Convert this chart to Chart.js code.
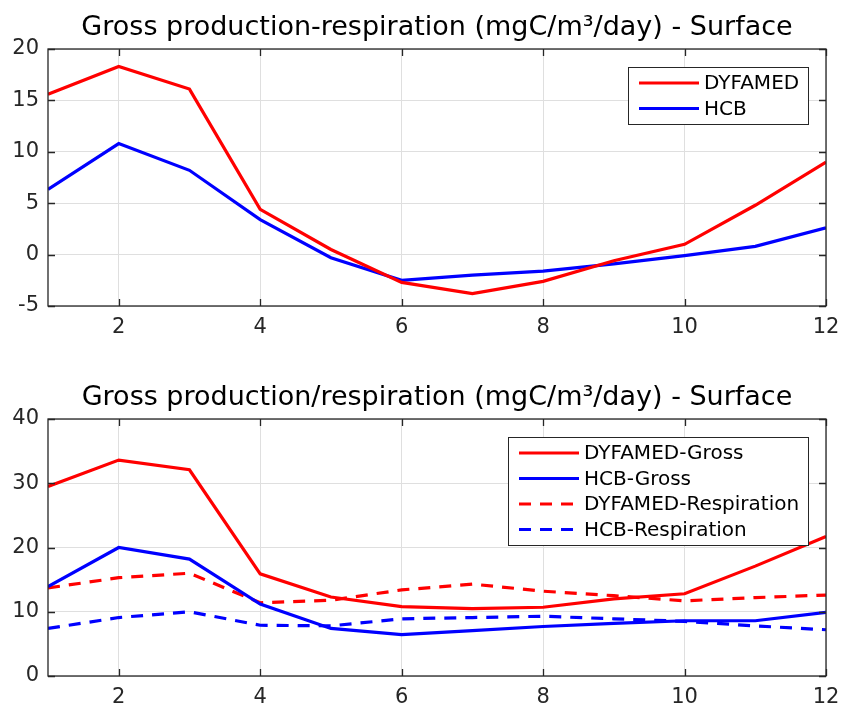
<!DOCTYPE html>
<html>
<head>
<meta charset="utf-8">
<script src="https://cdn.jsdelivr.net/npm/chart.js@4.4.1/dist/chart.umd.min.js"></script>
<style>
    body { margin: 0; background: #fff; width: 841px; height: 710px; position: relative; overflow: hidden; }
    .panel { position: absolute; left: 0; width: 841px; height: 340px; }
</style>
</head>
<body>
<div class="panel" style="top:0"><canvas id="net-chart" width="841" height="340"></canvas></div>
<div class="panel" style="top:370px"><canvas id="gross-chart" width="841" height="340"></canvas></div>
<script>
// Monthly surface values (mgC/m3/day)
const months = [1, 2, 3, 4, 5, 6, 7, 8, 9, 10, 11, 12];
const monthTicks = [2, 4, 6, 8, 10, 12];

// Gross production minus respiration
const dyfamedNet = [15.6, 18.3, 16.1, 4.4, 0.5, -2.7, -3.8, -2.6, -0.6, 1.0, 4.8, 9.0];
const hcbNet = [6.35, 10.8, 8.2, 3.4, -0.3, -2.5, -2.0, -1.6, -0.9, -0.1, 0.8, 2.6];
const netTicks = [-5, 0, 5, 10, 15, 20];

// Gross production and respiration
const dyfamedGross = [29.5, 33.6, 32.1, 15.9, 12.3, 10.8, 10.5, 10.7, 12.0, 12.8, 17.1, 21.7];
const hcbGross = [13.9, 20.0, 18.2, 11.2, 7.4, 6.45, 7.05, 7.7, 8.2, 8.6, 8.6, 9.9];
const dyfamedResp = [13.7, 15.3, 16.0, 11.4, 11.8, 13.4, 14.3, 13.2, 12.5, 11.7, 12.2, 12.6];
const hcbResp = [7.4, 9.1, 10.0, 7.9, 7.8, 8.9, 9.1, 9.3, 8.9, 8.5, 7.8, 7.2];
const grossTicks = [0, 10, 20, 30, 40];

const RED = '#ff0000';
const BLUE = '#0000ff';
const AXIS = '#262626';

Chart.defaults.font.family = '"DejaVu Sans", sans-serif';

function points(values) {
    return months.map((m, i) => ({ x: m, y: values[i] }));
}

function series(label, values, color, dashed) {
    return {
        label: label,
        data: points(values),
        borderColor: color,
        backgroundColor: color,
        borderDash: dashed ? [12, 9] : [],
        borderWidth: 3.2,
        pointRadius: 0,
        tension: 0,
        fill: false
    };
}

// axes box with inward tick marks, drawn over the lines
const framePlugin = {
    id: 'frame',
    afterDatasetsDraw(chart) {
        const { ctx, chartArea: a, scales: { x, y } } = chart;
        const len = 7;
        ctx.save();
        ctx.strokeStyle = AXIS;
        ctx.lineWidth = 1.3;
        ctx.beginPath();
        x.ticks.forEach(t => {
            const px = Math.round(x.getPixelForValue(t.value)) + 0.5;
            ctx.moveTo(px, a.bottom); ctx.lineTo(px, a.bottom - len);
            ctx.moveTo(px, a.top); ctx.lineTo(px, a.top + len);
        });
        y.ticks.forEach(t => {
            const py = Math.round(y.getPixelForValue(t.value)) + 0.5;
            ctx.moveTo(a.left, py); ctx.lineTo(a.left + len, py);
            ctx.moveTo(a.right, py); ctx.lineTo(a.right - len, py);
        });
        ctx.stroke();
        ctx.strokeRect(a.left, a.top, a.right - a.left, a.bottom - a.top);
        ctx.restore();
    }
};

// boxed legend in the upper right corner of the plot area
const boxLegend = {
    id: 'boxLegend',
    afterDraw(chart) {
        const { ctx, chartArea: a } = chart;
        const sets = chart.data.datasets;
        const rowH = 25.5;
        ctx.save();
        ctx.font = '20px "DejaVu Sans"';
        const textW = Math.max(...sets.map(d => ctx.measureText(d.label).width));
        const w = Math.round(76 + textW + 9);
        const h = Math.round(sets.length * rowH + 6);
        const x0 = Math.round(a.right - 18 - w);
        const y0 = Math.round(a.top + 18);
        ctx.fillStyle = '#fff';
        ctx.fillRect(x0, y0, w, h);
        ctx.strokeStyle = AXIS;
        ctx.lineWidth = 1;
        ctx.strokeRect(x0 + 0.5, y0 + 0.5, w, h);
        ctx.textBaseline = 'middle';
        sets.forEach((d, i) => {
            const cy = y0 + 16 + i * rowH;
            ctx.beginPath();
            ctx.strokeStyle = d.borderColor;
            ctx.lineWidth = 3;
            ctx.setLineDash(d.borderDash);
            ctx.moveTo(x0 + 11, cy);
            ctx.lineTo(x0 + 71, cy);
            ctx.stroke();
            ctx.setLineDash([]);
            ctx.fillStyle = '#000';
            ctx.fillText(d.label, x0 + 76, cy + 1);
        });
        ctx.restore();
    }
};

function makeChart(id, title, datasets, yTicks) {
    const ctx = document.getElementById(id).getContext('2d');
    return new Chart(ctx, {
        type: 'line',
        data: { datasets: datasets },
        options: {
            responsive: false,
            animation: false,
            layout: { padding: { left: 0, right: 15, top: 0, bottom: 0 } },
            scales: {
                x: {
                    type: 'linear',
                    min: 1,
                    max: 12,
                    afterBuildTicks: s => { s.ticks = monthTicks.map(v => ({ value: v })); },
                    afterFit: s => { s.height = 34; s.paddingLeft = 0; s.paddingRight = 0; },
                    grid: { color: '#dfdfdf', drawTicks: false },
                    border: { display: false },
                    ticks: { padding: 9, color: AXIS, font: { size: 21 }, maxRotation: 0, autoSkip: false }
                },
                y: {
                    type: 'linear',
                    min: yTicks[0],
                    max: yTicks[yTicks.length - 1],
                    afterBuildTicks: s => { s.ticks = yTicks.map(v => ({ value: v })); },
                    afterFit: s => { s.width = 48; s.paddingTop = 0; s.paddingBottom = 0; },
                    grid: { color: '#dfdfdf', drawTicks: false },
                    border: { display: false },
                    ticks: { padding: 9, color: AXIS, font: { size: 21 } }
                }
            },
            plugins: {
                legend: { display: false },
                tooltip: { enabled: false },
                title: {
                    display: true,
                    fullSize: false,
                    text: title,
                    color: '#000',
                    font: { size: 27, weight: 'normal' },
                    padding: { top: 12, bottom: 4.6 }
                }
            }
        },
        plugins: [framePlugin, boxLegend]
    });
}

makeChart('net-chart', 'Gross production-respiration (mgC/m³/day) - Surface', [
    series('DYFAMED', dyfamedNet, RED, false),
    series('HCB', hcbNet, BLUE, false)
], netTicks);

makeChart('gross-chart', 'Gross production/respiration (mgC/m³/day) - Surface', [
    series('DYFAMED-Gross', dyfamedGross, RED, false),
    series('HCB-Gross', hcbGross, BLUE, false),
    series('DYFAMED-Respiration', dyfamedResp, RED, true),
    series('HCB-Respiration', hcbResp, BLUE, true)
], grossTicks);
</script>
</body>
</html>
